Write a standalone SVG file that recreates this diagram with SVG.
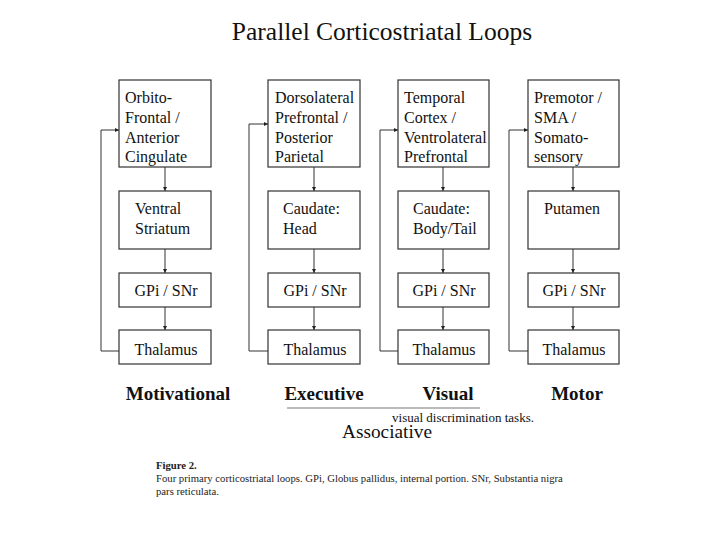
<svg xmlns="http://www.w3.org/2000/svg" width="720" height="540" viewBox="0 0 720 540">
<defs>
<marker id="ah" viewBox="0 0 6 6" refX="6" refY="3" markerWidth="4" markerHeight="4" orient="auto" markerUnits="userSpaceOnUse">
<path d="M0,0 L6,3 L0,6 z" fill="#222"/>
</marker>
</defs>
<style>
.box{fill:#fff;stroke:#333;stroke-width:1.2}
.t{font-family:"Liberation Serif",serif;font-size:16px;fill:#111}
.lab{font-family:"Liberation Serif",serif;font-size:19px;font-weight:bold;fill:#111}
.c{stroke:#333;stroke-width:1;fill:none}
.cap{font-family:"Liberation Serif",serif;font-size:10.7px;fill:#222}
</style>
<rect width="720" height="540" fill="#fff"/>
<text x="382" y="40" text-anchor="middle" font-family="Liberation Serif,serif" font-size="25.5" fill="#111">Parallel Corticostriatal Loops</text>

<g id="connectors">
<path class="c" d="M165,167 V191" marker-end="url(#ah)"/>
<path class="c" d="M165,249 V273" marker-end="url(#ah)"/>
<path class="c" d="M165,307 V330" marker-end="url(#ah)"/>
<path class="c" d="M119,351 H101 V130 H119" marker-end="url(#ah)"/>
<path class="c" d="M314,167 V191" marker-end="url(#ah)"/>
<path class="c" d="M314,249 V273" marker-end="url(#ah)"/>
<path class="c" d="M314,307 V330" marker-end="url(#ah)"/>
<path class="c" d="M268,351 H249 V124 H268" marker-end="url(#ah)"/>
<path class="c" d="M443,167 V191" marker-end="url(#ah)"/>
<path class="c" d="M443,249 V273" marker-end="url(#ah)"/>
<path class="c" d="M443,307 V330" marker-end="url(#ah)"/>
<path class="c" d="M398,351 H380 V130 H398" marker-end="url(#ah)"/>
<path class="c" d="M573,167 V191" marker-end="url(#ah)"/>
<path class="c" d="M573,249 V273" marker-end="url(#ah)"/>
<path class="c" d="M573,307 V330" marker-end="url(#ah)"/>
<path class="c" d="M528,351 H509 V130 H528" marker-end="url(#ah)"/>
</g>

<g id="c1-cortex"><rect class="box" x="119" y="80" width="92" height="87"/>
<text class="t" x="125" y="103">Orbito-</text><text class="t" x="125" y="123">Frontal /</text><text class="t" x="125" y="143">Anterior</text><text class="t" x="125" y="162">Cingulate</text></g>
<g id="c1-striatum"><rect class="box" x="119" y="191" width="92" height="58"/>
<text class="t" x="135" y="214">Ventral</text><text class="t" x="135" y="234">Striatum</text></g>
<g id="c1-gpi"><rect class="box" x="119" y="273" width="92" height="34"/>
<text class="t" x="166" y="296" text-anchor="middle">GPi / SNr</text></g>
<g id="c1-thal"><rect class="box" x="119" y="330" width="92" height="34"/>
<text class="t" x="166" y="355" text-anchor="middle">Thalamus</text></g>

<g id="c2-cortex"><rect class="box" x="268" y="80" width="92" height="87"/>
<text class="t" x="275" y="103">Dorsolateral</text><text class="t" x="275" y="123">Prefrontal /</text><text class="t" x="275" y="143">Posterior</text><text class="t" x="275" y="162">Parietal</text></g>
<g id="c2-striatum"><rect class="box" x="268" y="191" width="92" height="58"/>
<text class="t" x="283" y="214">Caudate:</text><text class="t" x="283" y="234">Head</text></g>
<g id="c2-gpi"><rect class="box" x="268" y="273" width="92" height="34"/>
<text class="t" x="315" y="296" text-anchor="middle">GPi / SNr</text></g>
<g id="c2-thal"><rect class="box" x="268" y="330" width="92" height="34"/>
<text class="t" x="315" y="355" text-anchor="middle">Thalamus</text></g>

<g id="c3-cortex"><rect class="box" x="398" y="80" width="91" height="87"/>
<text class="t" x="404" y="103">Temporal</text><text class="t" x="404" y="123">Cortex /</text><text class="t" x="404" y="143">Ventrolateral</text><text class="t" x="404" y="162">Prefrontal</text></g>
<g id="c3-striatum"><rect class="box" x="398" y="191" width="91" height="58"/>
<text class="t" x="413" y="214">Caudate:</text><text class="t" x="413" y="234">Body/Tail</text></g>
<g id="c3-gpi"><rect class="box" x="398" y="273" width="91" height="34"/>
<text class="t" x="444" y="296" text-anchor="middle">GPi / SNr</text></g>
<g id="c3-thal"><rect class="box" x="398" y="330" width="91" height="34"/>
<text class="t" x="444" y="355" text-anchor="middle">Thalamus</text></g>

<g id="c4-cortex"><rect class="box" x="528" y="80" width="91" height="87"/>
<text class="t" x="534" y="103">Premotor /</text><text class="t" x="534" y="123">SMA /</text><text class="t" x="534" y="143">Somato-</text><text class="t" x="534" y="162">sensory</text></g>
<g id="c4-striatum"><rect class="box" x="528" y="191" width="91" height="58"/>
<text class="t" x="544" y="214">Putamen</text></g>
<g id="c4-gpi"><rect class="box" x="528" y="273" width="91" height="34"/>
<text class="t" x="574" y="296" text-anchor="middle">GPi / SNr</text></g>
<g id="c4-thal"><rect class="box" x="528" y="330" width="91" height="34"/>
<text class="t" x="574" y="355" text-anchor="middle">Thalamus</text></g>

<text class="lab" x="178" y="400" text-anchor="middle">Motivational</text>
<text class="lab" x="324" y="400" text-anchor="middle">Executive</text>
<text class="lab" x="448" y="400" text-anchor="middle">Visual</text>
<text class="lab" x="577" y="400" text-anchor="middle">Motor</text>
<line x1="287" y1="408" x2="480" y2="408" stroke="#777" stroke-width="1"/>
<text x="463" y="422" text-anchor="middle" font-family="Liberation Serif,serif" font-size="13" fill="#111">visual discrimination tasks.</text>
<text x="387" y="438" text-anchor="middle" font-family="Liberation Serif,serif" font-size="19.3" fill="#111">Associative</text>

<text x="156" y="469" font-family="Liberation Serif,serif" font-size="10.7" font-weight="bold" fill="#222">Figure 2.</text>
<text class="cap" x="156" y="482">Four primary corticostriatal loops. GPi, Globus pallidus, internal portion. SNr, Substantia nigra</text>
<text class="cap" x="156" y="495">pars reticulata.</text>
</svg>
